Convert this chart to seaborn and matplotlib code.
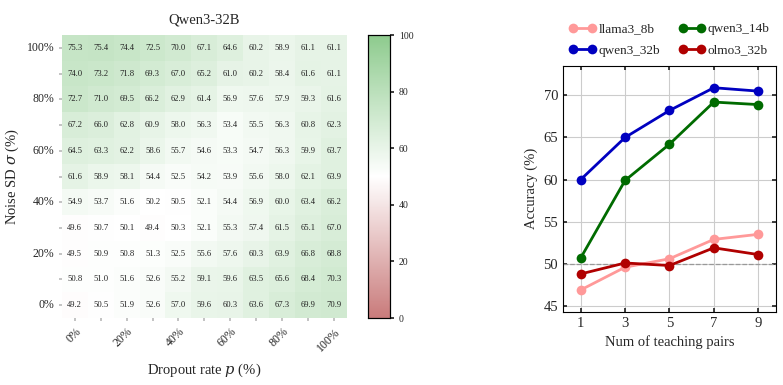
import numpy as np
import pandas as pd
import matplotlib
matplotlib.use("Agg")
import matplotlib.pyplot as plt
import seaborn as sns
from matplotlib.colors import LinearSegmentedColormap

sns.set_theme(style="white")
plt.rcParams['font.family'] = ['Liberation Serif', 'DejaVu Serif']
plt.rcParams['mathtext.fontset'] = 'dejavuserif'

# Heatmap data: rows = noise SD from 100% (top) down to 0%, cols = dropout 0%..100%
noise_labels = ["100%", "", "80%", "", "60%", "", "40%", "", "20%", "", "0%"]
dropout_labels = ["0%", "", "20%", "", "40%", "", "60%", "", "80%", "", "100%"]
heat_values = [
    [75.3, 75.4, 74.4, 72.5, 70.0, 67.1, 64.6, 60.2, 58.9, 61.1, 61.1],
    [74.0, 73.2, 71.8, 69.3, 67.0, 65.2, 61.0, 60.2, 58.4, 61.6, 61.1],
    [72.7, 71.0, 69.5, 66.2, 62.9, 61.4, 56.9, 57.6, 57.9, 59.3, 61.6],
    [67.2, 66.0, 62.8, 60.9, 58.0, 56.3, 53.4, 55.5, 56.3, 60.8, 62.3],
    [64.5, 63.3, 62.2, 58.6, 55.7, 54.6, 53.3, 54.7, 56.3, 59.9, 63.7],
    [61.6, 58.9, 58.1, 54.4, 52.5, 54.2, 53.9, 55.6, 58.0, 62.1, 63.9],
    [54.9, 53.7, 51.6, 50.2, 50.5, 52.1, 54.4, 56.9, 60.0, 63.4, 66.2],
    [49.6, 50.7, 50.1, 49.4, 50.3, 52.1, 55.3, 57.4, 61.5, 65.1, 67.0],
    [49.5, 50.9, 50.8, 51.3, 52.5, 55.6, 57.6, 60.3, 63.9, 66.8, 68.8],
    [50.8, 51.0, 51.6, 52.6, 55.2, 59.1, 59.6, 63.5, 65.6, 68.4, 70.3],
    [49.2, 50.5, 51.9, 52.6, 57.0, 59.6, 60.3, 63.6, 67.3, 69.9, 70.9],
]

# Line chart data
pairs = [1, 3, 5, 7, 9]
llama3_8b = [46.9, 49.6, 50.6, 52.9, 53.5]
qwen3_14b = [50.7, 59.9, 64.2, 69.2, 68.9]
qwen3_32b = [60.0, 65.0, 68.2, 70.9, 70.5]
olmo3_32b = [48.8, 50.1, 49.8, 51.9, 51.1]

fig = plt.figure(figsize=(7.83, 3.85), dpi=100)
ax_h = fig.add_axes([0.079, 0.174, 0.364, 0.735])
ax_cb = fig.add_axes([0.470, 0.174, 0.028, 0.735])
ax_l = fig.add_axes([0.719, 0.190, 0.272, 0.639])

cmap = LinearSegmentedColormap.from_list("rwg", ["#c97b7b", "#ffffff", "#8ecb8e"])
df = pd.DataFrame(heat_values)
sns.heatmap(df, ax=ax_h, cbar_ax=ax_cb, cmap=cmap, vmin=0, vmax=100,
            annot=True, fmt=".1f", annot_kws={"fontsize": 6.2, "color": "#222222"},
            xticklabels=dropout_labels, yticklabels=noise_labels)
ax_h.set_title("Qwen3-32B", fontsize=10.5, pad=8)
ax_h.set_xlabel("Dropout rate $p$ (%)", fontsize=10.5, labelpad=6)
ax_h.set_ylabel("Noise SD $\\sigma$ (%)", fontsize=10.5)
ax_h.tick_params(axis='x', labelsize=8.5, rotation=45, length=2, color="#bbbbbb", bottom=True)
ax_h.tick_params(axis='y', labelsize=8.5, rotation=0, length=2, color="#bbbbbb", left=True)
for lbl in ax_h.get_xticklabels():
    lbl.set_ha('right')
    lbl.set_rotation_mode('anchor')

ax_cb.tick_params(labelsize=7, length=3)
ax_cb.set_yticks([0, 20, 40, 60, 80, 100])
for s in ax_cb.spines.values():
    s.set_visible(True)
    s.set_edgecolor("black")
    s.set_linewidth(0.8)

series = [
    ("llama3_8b", llama3_8b, "#ff9999"),
    ("qwen3_14b", qwen3_14b, "#006b00"),
    ("qwen3_32b", qwen3_32b, "#0000c0"),
    ("olmo3_32b", olmo3_32b, "#b00000"),
]
ax_l.axhline(50, color="#999999", linestyle="--", linewidth=0.9, zorder=1)
for name, vals, col in series:
    sns.lineplot(x=pairs, y=vals, ax=ax_l, color=col, marker="o", markersize=7,
                 markeredgewidth=0, linewidth=2, label=name, zorder=3)
ax_l.set_xlim(0.2, 9.8)
ax_l.set_ylim(44.3, 73.5)
ax_l.set_xticks(pairs)
ax_l.set_yticks([45, 50, 55, 60, 65, 70])
ax_l.grid(True, color="#cccccc", linewidth=0.8)
ax_l.tick_params(labelsize=10.5, direction='in', length=3, left=True, bottom=True, right=True, top=True)
ax_l.set_xlabel("Num of teaching pairs", fontsize=10.5)
ax_l.set_ylabel("Accuracy (%)", fontsize=10.5)
for s in ax_l.spines.values():
    s.set_edgecolor("black")
    s.set_linewidth(0.8)
h, l = ax_l.get_legend_handles_labels()
order = [0, 2, 1, 3]
ax_l.legend([h[i] for i in order], [l[i] for i in order],
            loc="lower center", bbox_to_anchor=(0.5, 1.0), ncol=2, frameon=False,
            fontsize=9.5, handlelength=2.0, columnspacing=1.4, handletextpad=0.2,
            borderaxespad=0.3, labelspacing=0.7, numpoints=2)

fig.savefig("out.png", dpi=100)
